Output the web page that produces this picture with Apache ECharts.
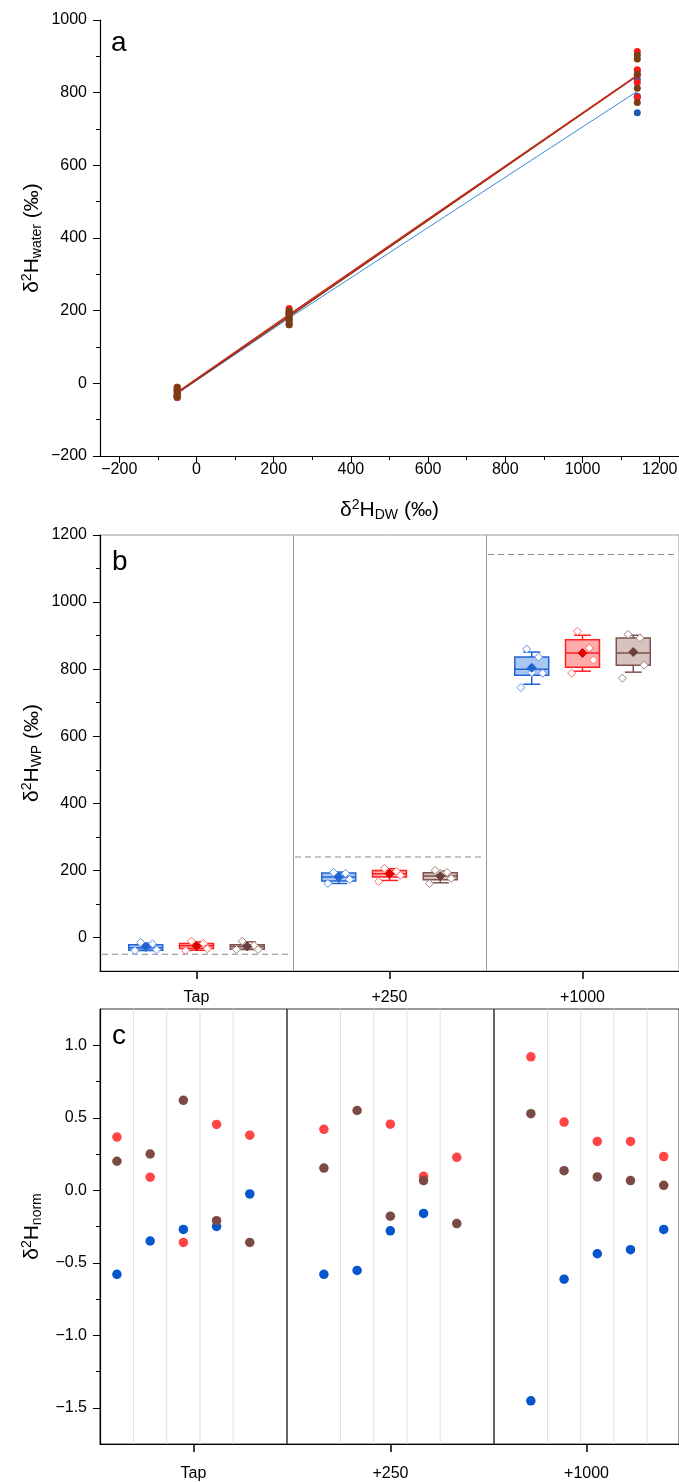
<!DOCTYPE html>
<html>

<head>
  <meta charset="utf-8">
  <title>δ2H panels</title>
  <style>
    body {
      margin: 0;
      background: #fff;
    }

    #chart {
      width: 679px;
      height: 1482px;
    }
  </style>
  <script src="https://cdn.jsdelivr.net/npm/echarts@6/dist/echarts.min.js"></script>
</head>

<body>
  <div id="chart"></div>

  <script>
    // groups and the δ2H of the dosing water of each group (‰)
    var groups = ['Tap', '+250', '+1000'];
    var dwValues = [-50, 240, 1142];

    // five replicate values per group, in order Tap, +250, +1000 (‰)
    var blueWP = [-15, -19, -31, -37, -39, 194, 191, 180, 173, 161, 860, 836, 790, 788, 745];
    var redWP = [-11, -18, -22, -34, -39, 206, 197, 190, 185, 167, 913, 863, 848, 827, 788];
    var brownWP = [-11, -24, -27, -36, -36, 200, 194, 191, 176, 161, 904, 893, 851, 812, 773];

    // box per group: [low whisker, q1, median, q3, high whisker]
    var blueBox = [[-39, -38, -31, -22, -17], [161, 168, 180, 192, 195], [755, 782, 800, 836, 851]];
    var redBox = [[-38, -33, -25, -18, -13], [170, 180, 190, 200, 205], [794, 806, 848, 888, 901]];
    var brownBox = [[-36, -35, -27, -22, -13], [163, 172, 183, 193, 198], [791, 812, 848, 893, 901]];
    var blueMean = [-28, 180, 804];
    var redMean = [-25, 190, 848];
    var brownMean = [-27, 183, 851];

    // normalised values, five replicates per group, null = no point
    var blueNorm = [-0.58, -0.35, -0.27, -0.25, -0.025, -0.58, -0.553, -0.28, -0.16, null, -1.452, -0.613, -0.438, -0.41, -0.27];
    var redNorm = [0.367, 0.09, -0.36, 0.454, 0.38, 0.42, null, 0.456, 0.096, 0.227, 0.92, 0.47, 0.337, 0.337, 0.232];
    var brownNorm = [0.20, 0.25, 0.62, -0.21, -0.36, 0.153, 0.55, -0.179, 0.067, -0.23, 0.528, 0.135, 0.092, 0.067, 0.034];

    // tick values
    var aXTicks = [-200, 0, 200, 400, 600, 800, 1000, 1200];
    var aXMinor = [-100, 100, 300, 500, 700, 900, 1100];
    var aYTicks = [-200, 0, 200, 400, 600, 800, 1000];
    var aYMinor = [-100, 100, 300, 500, 700, 900];
    var bYTicks = [0, 200, 400, 600, 800, 1000, 1200];
    var bYMinor = [100, 300, 500, 700, 900, 1100];
    var cYTicks = [-1.5, -1.0, -0.5, 0, 0.5, 1.0];
    var cYMinor = [-1.25, -0.75, -0.25, 0.25, 0.75];
    var replicates = [1, 2, 3, 4, 5];
    var repGaps = [1.5, 2.5, 3.5, 4.5];

    var font = 'Liberation Sans';
    var black = '#000';
    var jitter = [-0.15, 0.2, 0, 0.32, -0.32];

    function fmt(d) {
      return function (v) {
        var s = Math.abs(v).toFixed(d);
        return v < 0 ? '\u2212' + s : s;
      };
    }

    var nameRich = {
      t: { fontSize: 21, fontFamily: font, color: black },
      sup: { fontSize: 14, fontFamily: font, color: black, padding: [0, 0, 10, 0] },
      sub: { fontSize: 14, fontFamily: font, color: black, padding: [10, 0, 0, 0] }
    };
    function richName(sub, permil) {
      return '{t|δ}{sup|2}{t|H}{sub|' + sub + '}' + (permil ? '{t| (‰)}' : '');
    }

    // a visible axis with labelled major ticks plus an overlay that only draws minor ticks
    function axisPair(dim, grid, min, max, majors, minors, d, extra) {
      var pos = dim === 'x' ? 'bottom' : 'left';
      var major = {
        gridIndex: grid, type: 'value', position: pos, min: min, max: max,
        axisLine: { show: true, onZero: false, lineStyle: { color: black, width: 1.2 } },
        axisTick: { show: true, inside: false, length: 7, customValues: majors, lineStyle: { color: black, width: 1 } },
        axisLabel: { customValues: majors, formatter: fmt(d), fontSize: 16, color: black, fontFamily: font, margin: dim === 'x' ? 6 : 13 },
        splitLine: { show: false }
      };
      for (var k in extra) major[k] = extra[k];
      var minor = {
        gridIndex: grid, type: 'value', position: pos, min: min, max: max,
        axisLine: { show: false, onZero: false },
        axisTick: { show: true, inside: false, length: 4, customValues: minors, lineStyle: { color: black, width: 1 } },
        axisLabel: { show: false },
        splitLine: { show: false }
      };
      return [major, minor];
    }

    function yName(sub, permil) {
      return {
        name: richName(sub, permil), nameLocation: 'middle', nameGap: 56, nameRotate: 90,
        nameMoveOverlap: false,
        nameTextStyle: { rich: nameRich, fontSize: 21, fontFamily: font, color: black }
      };
    }

    // ---- panel a ----
    function pairs(vals) {
      var out = [];
      for (var g = 0; g < groups.length; g++) {
        for (var r = 0; r < 5; r++) out.push([dwValues[g], vals[g * 5 + r]]);
      }
      return out;
    }
    function groupMeans(vals) {
      return groups.map(function (_, g) {
        var s = vals.slice(g * 5, g * 5 + 5);
        return [dwValues[g], s.reduce(function (a, b) { return a + b; }, 0) / s.length];
      });
    }

    // ---- panel b ----
    function diamond(x, y, r, style) {
      return { type: 'polygon', shape: { points: [[x, y - r], [x + r, y], [x, y + r], [x - r, y]] }, style: style };
    }
    function boxSeries(k, box, mean, vals, c) {
      return {
        type: 'custom', xAxisIndex: 2, yAxisIndex: 2, z: 3,
        data: groups.map(function (g, i) { return [i].concat(box[i], [mean[i]]); }),
        encode: { x: 0, y: [1, 2, 3, 4, 5, 6] },
        renderItem: function (params, api) {
          var gi = api.value(0);
          var band = api.size([1, 0])[0];
          var cx = api.coord([gi, 0])[0] + (k - 1) * band * 0.263;
          var bw = band * 0.176;
          var y = function (v) { return api.coord([gi, v])[1]; };
          var low = y(api.value(1)), q1 = y(api.value(2)), med = y(api.value(3));
          var q3 = y(api.value(4)), high = y(api.value(5)), mn = y(api.value(6));
          var ls = { stroke: c.edge, lineWidth: 1.5 };
          var kids = [
            { type: 'line', shape: { x1: cx, y1: q3, x2: cx, y2: high }, style: ls },
            { type: 'line', shape: { x1: cx, y1: q1, x2: cx, y2: low }, style: ls },
            { type: 'line', shape: { x1: cx - bw / 4, y1: high, x2: cx + bw / 4, y2: high }, style: ls },
            { type: 'line', shape: { x1: cx - bw / 4, y1: low, x2: cx + bw / 4, y2: low }, style: ls },
            { type: 'rect', shape: { x: cx - bw / 2, y: q3, width: bw, height: q1 - q3 }, style: { fill: c.fill, stroke: c.edge, lineWidth: 1.5 } },
            { type: 'line', shape: { x1: cx - bw / 2, y1: med, x2: cx + bw / 2, y2: med }, style: ls }
          ];
          for (var r = 0; r < 5; r++) {
            var v = vals[gi * 5 + r];
            if (v == null) continue;
            kids.push(diamond(cx + jitter[r] * bw, y(v), 4, { fill: '#fff', stroke: c.point, lineWidth: 1 }));
          }
          kids.push(diamond(cx, mn, 4.5, { fill: c.mean, stroke: c.mean, lineWidth: 1 }));
          return { type: 'group', children: kids };
        }
      };
    }

    // ---- panel c ----
    var cX = [3, 5, 7];
    var cY = [4, 6, 7];
    function normSeries(g, vals, color) {
      var data = [];
      replicates.forEach(function (r) {
        var v = vals[g * 5 + r - 1];
        if (v != null) data.push([r, v]);
      });
      return {
        type: 'scatter', xAxisIndex: cX[g], yAxisIndex: cY[g], z: 3,
        symbolSize: 9.5, itemStyle: { color: color, opacity: 1 }, data: data
      };
    }
    function gapSeries(g) {
      return {
        type: 'custom', xAxisIndex: cX[g], yAxisIndex: cY[g], z: 1, silent: true,
        data: repGaps.map(function (v) { return [v, 0]; }),
        renderItem: function (params, api) {
          var x = api.coord([api.value(0), 0])[0];
          var cs = params.coordSys;
          return { type: 'line', shape: { x1: x, y1: cs.y, x2: x, y2: cs.y + cs.height }, style: { stroke: '#e0e0e0', lineWidth: 1 } };
        }
      };
    }

    var aX = axisPair('x', 0, -250, 1250, aXTicks, aXMinor, 0, {
      name: richName('DW', true), nameLocation: 'middle', nameGap: 42, nameMoveOverlap: false,
      nameTextStyle: { rich: nameRich, fontSize: 21, fontFamily: font, color: black }
    });
    var aY = axisPair('y', 0, -200, 1000, aYTicks, aYMinor, 0, yName('water', true));
    var bY = axisPair('y', 1, -100, 1200, bYTicks, bYMinor, 0, yName('WP', true));
    var cYAx = axisPair('y', 2, -1.75, 1.25, cYTicks, cYMinor, 1, yName('norm', false));

    function catAxis(grid, data, margin) {
      return {
        gridIndex: grid, type: 'category', position: 'bottom', data: data, boundaryGap: true,
        axisLine: { show: true, onZero: false, lineStyle: { color: black, width: 1.2 } },
        axisTick: { show: true, alignWithLabel: true, length: 8, lineStyle: { color: black, width: 1.5 } },
        axisLabel: { fontSize: 16, color: black, fontFamily: font, margin: margin },
        splitLine: { show: false }
      };
    }
    function hiddenValue(grid, pos, min, max) {
      return { gridIndex: grid, type: 'value', position: pos, min: min, max: max, show: false, axisLine: { onZero: false }, splitLine: { show: false } };
    }

    var bCat = catAxis(1, groups, 19);
    bCat.splitLine = { show: true, lineStyle: { color: '#999', width: 1 } };

    var gridBase = { containLabel: false, outerBoundsMode: 'none' };
    function grid(o) {
      for (var k in gridBase) o[k] = gridBase[k];
      return o;
    }

    var option = {
      animation: false,
      backgroundColor: '#fff',
      grid: [
        grid({ left: 100, top: 20, width: 579, height: 436 }),
        grid({ left: 100, top: 535, width: 579, height: 436, show: true, borderColor: '#999', borderWidth: 1 }),
        grid({ left: 100, top: 1009, width: 187, height: 435, show: true, borderColor: '#333', borderWidth: 1 }),
        grid({ left: 287, top: 1009, width: 207, height: 435, show: true, borderColor: '#333', borderWidth: 1 }),
        grid({ left: 494, top: 1009, width: 185, height: 435, show: true, borderColor: '#333', borderWidth: 1 })
      ],
      xAxis: [
        aX[0], aX[1],
        bCat,
        hiddenValue(2, 'bottom', 0.49, 6.12), catAxis(2, [groups[0]], 22),
        hiddenValue(3, 'bottom', -0.11, 6.12), catAxis(3, [groups[1]], 22),
        hiddenValue(4, 'bottom', -0.11, 5.46), catAxis(4, [groups[2]], 22)
      ],
      yAxis: [
        aY[0], aY[1],
        bY[0], bY[1],
        cYAx[0], cYAx[1],
        hiddenValue(3, 'left', -1.75, 1.25),
        hiddenValue(4, 'left', -1.75, 1.25)
      ],
      graphic: [
        { type: 'text', left: 111, top: 29, style: { text: 'a', font: '28px "Liberation Sans"', fill: black } },
        { type: 'text', left: 112, top: 548, style: { text: 'b', font: '28px "Liberation Sans"', fill: black } },
        { type: 'text', left: 112, top: 1022, style: { text: 'c', font: '28px "Liberation Sans"', fill: black } }
      ],
      series: [
        // panel a: group means joined by lines, replicates as dots
        { type: 'line', xAxisIndex: 0, yAxisIndex: 0, z: 2, symbol: 'none', data: groupMeans(blueWP), lineStyle: { color: '#3b88d6', width: 1 } },
        { type: 'line', xAxisIndex: 0, yAxisIndex: 0, z: 2, symbol: 'none', data: groupMeans(brownWP), lineStyle: { color: '#8a2f10', width: 1.5 } },
        { type: 'line', xAxisIndex: 0, yAxisIndex: 0, z: 2, symbol: 'none', data: groupMeans(redWP), lineStyle: { color: '#c72a1a', width: 1.5 } },
        { type: 'scatter', xAxisIndex: 0, yAxisIndex: 0, z: 3, symbolSize: 7, itemStyle: { color: '#1a5cb8', opacity: 1 }, data: pairs(blueWP) },
        { type: 'scatter', xAxisIndex: 0, yAxisIndex: 0, z: 3, symbolSize: 7, itemStyle: { color: '#ff1a1a', opacity: 1 }, data: pairs(redWP) },
        { type: 'scatter', xAxisIndex: 0, yAxisIndex: 0, z: 3, symbolSize: 7, itemStyle: { color: '#7b3d12', opacity: 1 }, data: pairs(brownWP) },

        // panel b: dashed line at the dosing-water value of each group
        {
          type: 'custom', xAxisIndex: 2, yAxisIndex: 2, z: 2, silent: true,
          data: groups.map(function (g, i) { return [i, dwValues[i]]; }),
          renderItem: function (params, api) {
            var p = api.coord([api.value(0), api.value(1)]);
            var band = api.size([1, 0])[0];
            return {
              type: 'line', shape: { x1: p[0] - band / 2 + 2, y1: p[1], x2: p[0] + band / 2 - 4, y2: p[1] },
              style: { stroke: '#888', lineWidth: 1, lineDash: [6, 4] }
            };
          }
        },
        boxSeries(0, blueBox, blueMean, blueWP, { edge: '#1f63d4', fill: '#aac6f2', point: '#5b95ea', mean: '#1f63d4' }),
        boxSeries(1, redBox, redMean, redWP, { edge: '#ff1f1f', fill: '#ffabab', point: '#ff6a6a', mean: '#e00000' }),
        boxSeries(2, brownBox, brownMean, brownWP, { edge: '#7e524e', fill: '#d6c2bf', point: '#a8817d', mean: '#6b3f3b' }),

        // panel c
        gapSeries(0), gapSeries(1), gapSeries(2),
        normSeries(0, blueNorm, '#0555cc'), normSeries(0, redNorm, '#ff4545'), normSeries(0, brownNorm, '#7b4a45'),
        normSeries(1, blueNorm, '#0555cc'), normSeries(1, redNorm, '#ff4545'), normSeries(1, brownNorm, '#7b4a45'),
        normSeries(2, blueNorm, '#0555cc'), normSeries(2, redNorm, '#ff4545'), normSeries(2, brownNorm, '#7b4a45')
      ]
    };

    var chart = echarts.init(document.getElementById('chart'));
    chart.setOption(option);
  </script>
</body>

</html>
